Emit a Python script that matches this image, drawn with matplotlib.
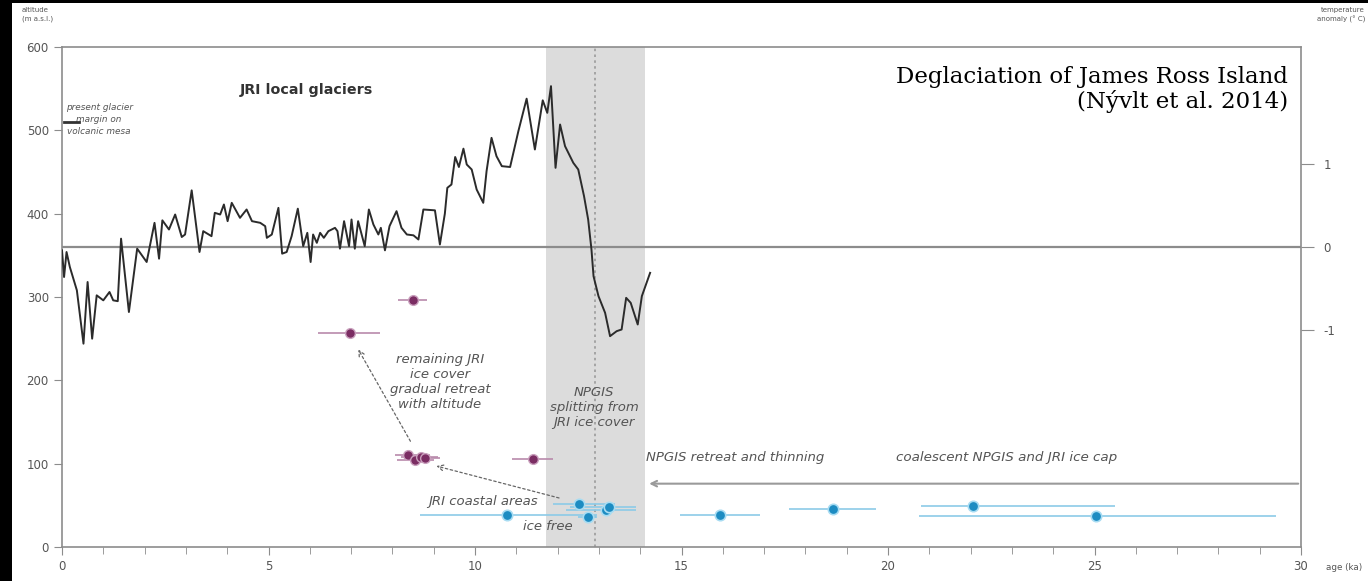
import numpy as np
import matplotlib.pyplot as plt
from matplotlib.patches import Rectangle

plt.rcParams['axes.unicode_minus'] = False

# temperature anomaly (deg C) vs age (ka)
edad = [0.00, 0.05, 0.11, 0.19, 0.36, 0.52, 0.62, 0.73, 0.84, 1.00, 1.15, 1.24, 1.35, 1.43,
        1.62, 1.82, 2.05, 2.24, 2.35, 2.43, 2.59, 2.74, 2.90, 2.98, 3.14, 3.33, 3.42, 3.62,
        3.70, 3.83, 3.92, 4.01, 4.11, 4.31, 4.47, 4.60, 4.80, 4.92, 4.96, 5.08, 5.24, 5.33,
        5.44, 5.56, 5.71, 5.84, 5.94, 6.02, 6.08, 6.17, 6.25, 6.34, 6.45, 6.61, 6.67, 6.73,
        6.83, 6.95, 7.01, 7.09, 7.17, 7.33, 7.43, 7.54, 7.66, 7.72, 7.82, 7.93, 8.10, 8.22,
        8.35, 8.51, 8.63, 8.75, 9.03, 9.15, 9.27, 9.33, 9.43, 9.52, 9.61, 9.72, 9.80, 9.92,
        10.04, 10.20, 10.28, 10.40, 10.52, 10.65, 10.85, 11.05, 11.25, 11.45, 11.64, 11.75,
        11.84, 11.95, 12.06, 12.18, 12.38, 12.50, 12.64, 12.74, 12.82, 12.87, 12.99, 13.15,
        13.27, 13.43, 13.55, 13.66, 13.77, 13.94, 14.04, 14.24]
temp = [-0.04, -0.36, -0.06, -0.24, -0.52, -1.16, -0.42, -1.10, -0.58, -0.64, -0.54, -0.64,
        -0.65, 0.10, -0.78, -0.02, -0.18, 0.29, -0.14, 0.32, 0.21, 0.39, 0.12, 0.15, 0.68,
        -0.06, 0.19, 0.13, 0.41, 0.39, 0.51, 0.31, 0.53, 0.35, 0.45, 0.31, 0.29, 0.25, 0.11,
        0.15, 0.47, -0.08, -0.06, 0.13, 0.46, 0.01, 0.17, -0.18, 0.15, 0.05, 0.17, 0.11, 0.19,
        0.23, 0.19, -0.02, 0.31, 0.01, 0.33, -0.02, 0.31, 0.01, 0.45, 0.27, 0.15, 0.23, -0.04,
        0.25, 0.43, 0.23, 0.15, 0.14, 0.09, 0.45, 0.44, 0.03, 0.40, 0.71, 0.75, 1.08, 0.96,
        1.18, 0.99, 0.93, 0.69, 0.53, 0.91, 1.31, 1.09, 0.97, 0.96, 1.39, 1.78, 1.17, 1.76,
        1.61, 1.93, 0.95, 1.47, 1.21, 1.01, 0.93, 0.61, 0.33, -0.03, -0.35, -0.59, -0.79,
        -1.07, -1.01, -0.99, -0.61, -0.67, -0.93, -0.59, -0.31]

# exposure ages, JRI local glaciers (altitude m a.s.l.)
jri_edad = [6.97, 8.49, 8.38, 8.55, 8.70, 8.80, 11.40]
jri_alt = [257, 296, 110, 105, 108, 107, 106]
jri_min = [6.20, 8.14, 8.06, 8.10, 8.20, 8.30, 10.90]
jri_max = [7.70, 8.84, 8.90, 9.00, 9.10, 9.15, 11.90]

# exposure ages, coastal areas / NPGIS
np_edad = [10.77, 12.53, 12.73, 13.17, 13.25, 15.93, 18.67, 22.07, 25.03]
np_alt = [38, 52, 36, 45, 48, 39, 46, 49, 37]
np_min = [8.67, 11.90, 12.50, 12.20, 12.30, 14.96, 17.60, 20.80, 20.75]
np_max = [12.95, 13.40, 12.95, 13.90, 13.90, 16.90, 19.70, 25.50, 29.40]

margen_alt = 510      # present glacier margin on volcanic mesa
npgis_split = 12.9    # NPGIS splitting from JRI ice cover
split_ini, split_fin = 11.71, 14.12
npgis_alt = 76

gris = '#8c8c8c'
texto = '#555555'

fig = plt.figure(figsize=(13.68, 5.81), dpi=100)
fig.patch.set_facecolor('black')
fondo = Rectangle((12 / 1368, 0), 1, 578 / 581, transform=fig.transFigure,
                  facecolor='white', edgecolor='none', zorder=-10)
fig.add_artist(fondo)

ax = fig.add_axes([62 / 1368, 34 / 581, 1239 / 1368, 500 / 581])
ax.set_facecolor('none')
ax.set_xlim(0, 30)
ax.set_ylim(0, 600)

ax.axvspan(split_ini, split_fin, color='#dcdcdc', lw=0, zorder=0)
ax.axvline(npgis_split, color='#9a9a9a', ls=(0, (1.5, 2)), lw=1.2, zorder=1)

# dating points
jri_err = [np.array(jri_edad) - np.array(jri_min), np.array(jri_max) - np.array(jri_edad)]
ax.errorbar(jri_edad, jri_alt, xerr=jri_err, fmt='none', ecolor='#b98aab', elinewidth=1.2,
            capsize=0, zorder=3)
ax.plot(jri_edad, jri_alt, 'o', color='#7b2d63', ms=7, mec='#c9a0bd', mew=1, zorder=4)

np_err = [np.array(np_edad) - np.array(np_min), np.array(np_max) - np.array(np_edad)]
ax.errorbar(np_edad, np_alt, xerr=np_err, fmt='none', ecolor='#8ccbe8', elinewidth=1.2,
            capsize=0, zorder=3)
ax.plot(np_edad, np_alt, 'o', color='#1d8cc2', ms=7.5, mec='#a8dcf2', mew=1.2, zorder=4)

ax.plot([0.05, 0.4], [margen_alt, margen_alt], color='#333333', lw=2, zorder=4)

# NPGIS retreat arrow
ax.annotate('', xy=(14.15, npgis_alt), xytext=(30, npgis_alt),
            arrowprops=dict(arrowstyle='->', color='#9a9a9a', lw=1.5), zorder=2)
# dotted arrows
ax.annotate('', xy=(7.14, 240), xytext=(8.47, 124),
            arrowprops=dict(arrowstyle='->', color='#666666', lw=0.9, ls=(0, (2, 2))))
ax.annotate('', xy=(9.0, 98), xytext=(12.1, 58),
            arrowprops=dict(arrowstyle='->', color='#666666', lw=0.9, ls=(0, (2, 2))))

it = dict(style='italic', color=texto, fontsize=9.5, ha='center', va='center',
          linespacing=1.2)
ax.text(0.9, 513, 'present glacier\nmargin on\nvolcanic mesa', style='italic', color=texto,
        fontsize=6.4, ha='center', va='center', linespacing=1.45)
ax.text(9.15, 198, 'remaining JRI\nice cover\ngradual retreat\nwith altitude', **it)
ax.text(12.88, 167, 'NPGIS\nsplitting from\nJRI ice cover', **it)
ax.text(14.15, 108, 'NPGIS retreat and thinning', style='italic', color=texto,
        fontsize=9.5, ha='left', va='center')
ax.text(20.2, 108, 'coalescent NPGIS and JRI ice cap', style='italic', color=texto,
        fontsize=9.7, ha='left', va='center')
ax.text(10.2, 55, 'JRI coastal areas', **it)
ax.text(11.77, 25, 'ice free', **it)
ax.text(4.3, 548, 'JRI local glaciers', fontsize=10.3, fontweight='bold', color='#333333',
        ha='left', va='center')

ax.text(29.68, 564, 'Deglaciation of James Ross Island', family='DejaVu Serif',
        fontsize=16.5, color='black', ha='right', va='center')
ax.text(29.68, 535, '(Nývlt et al. 2014)', family='DejaVu Serif', fontsize=16.5,
        color='black', ha='right', va='center')

for s in ax.spines.values():
    s.set_color(gris)
    s.set_linewidth(1.2)
ax.set_xticks(range(0, 31, 5))
ax.set_xticks(range(0, 31), minor=True)
ax.set_yticks(range(0, 601, 100))
ax.tick_params(which='both', direction='out', color=gris, labelcolor=texto, labelsize=8.5)
ax.tick_params(which='major', length=6)
ax.tick_params(which='minor', length=5)

# temperature on the right axis
ax2 = ax.twinx()
ax2.set_ylim(-3.6, 2.4)
ax2.axhline(0, color=gris, lw=1.6, zorder=1)
ax2.plot(edad, temp, color='#2b2b2b', lw=1.4, zorder=5)
ax2.set_yticks([-1, 0, 1])
ax2.tick_params(direction='out', length=9, pad=7, color=gris, labelcolor=texto,
                labelsize=8.5)
for s in ax2.spines.values():
    s.set_visible(False)

fig.text(22 / 1368, 1 - 15 / 581, 'altitude\n(m a.s.l.)', fontsize=5, color=texto,
         ha='left', va='center', linespacing=1.5)
fig.text(1365 / 1368, 1 - 15 / 581, 'temperature\nanomaly (° C)', fontsize=5, color=texto,
         ha='right', va='center', linespacing=1.5)
fig.text(1326 / 1368, 1 - 567 / 581, 'age (ka)', fontsize=6.3, color=texto, ha='left',
         va='center')

plt.savefig('out.png', dpi=100, facecolor=fig.get_facecolor())
